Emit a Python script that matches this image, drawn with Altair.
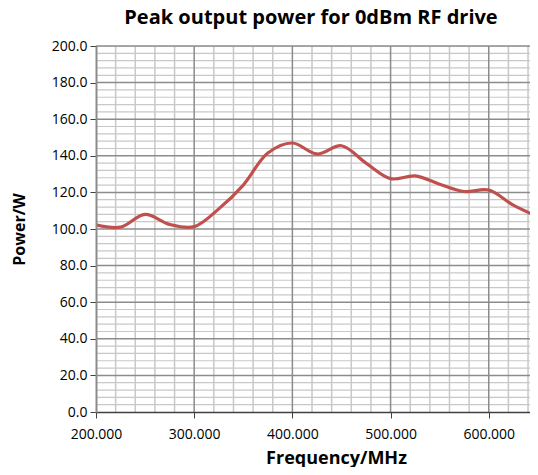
import altair as alt
import pandas as pd

# Data
freq_mhz = [200, 225, 250, 275, 300, 325, 350, 375, 400, 425, 450, 475, 500, 525, 550, 575, 600, 625, 650]
power_w = [102.3, 101.0, 108.0, 102.5, 101.3, 111.0, 124.0, 141.5, 147.0, 141.0, 145.5, 136.0, 127.5, 129.0, 124.5, 120.5, 121.3, 113.0, 106.7]

x_tick_labels = [200, 300, 400, 500, 600]
y_tick_labels = [0, 20, 40, 60, 80, 100, 120, 140, 160, 180, 200]

x_major_grid = [300, 400, 500, 600]
x_minor_grid = [v for v in range(220, 650, 20) if v % 100 != 0]
y_major_grid = [20, 40, 60, 80, 100, 120, 140, 160, 180, 200]
y_minor_grid = [v for v in range(4, 200, 4) if v % 20 != 0]

FONT = "Open Sans"
X_MAX = 642  # visible right edge of the plot (the reference is cut at the frame edge)

xscale = alt.Scale(domain=[200, X_MAX], nice=False, zero=False)
yscale = alt.Scale(domain=[0, 200], nice=False, zero=True)

xaxis = alt.Axis(
    values=x_tick_labels, format=".3f", grid=False, zindex=1,
    title="Frequency/MHz", titleFont=FONT, titleFontSize=18, titleFontWeight="bold",
    titleColor="#000000", titleX=240, titleY=51, titleBaseline="alphabetic", titleAlign="center",
    labelFont=FONT, labelFontSize=14, labelColor="#000000", labelPadding=9,
    labelAlign="center", labelFlush=False,
    tickSize=6, tickColor="#404040", tickWidth=1,
    domainColor="#404040", domainWidth=1.5,
)
yaxis = alt.Axis(
    values=y_tick_labels, format=".1f", grid=False, zindex=1,
    title="Power/W", titleFont=FONT, titleFontSize=16, titleFontWeight="bold",
    titleColor="#000000", titleX=-77, titleY=183, titleAngle=270, titleBaseline="middle", titleAlign="center",
    labelFont=FONT, labelFontSize=14, labelColor="#000000", labelPadding=3,
    labelFlush=False,
    tickSize=6, tickColor="#404040", tickWidth=1,
    domainColor="#8c8c8c", domainWidth=2,
)

line_df = pd.DataFrame({"f": freq_mhz, "p": power_w})

xminor = alt.Chart(pd.DataFrame({"f": x_minor_grid})).mark_rule(color="#c8c8c8", strokeWidth=1.5, clip=True).encode(
    x=alt.X("f:Q", scale=xscale, axis=xaxis)
)
yminor = alt.Chart(pd.DataFrame({"p": y_minor_grid})).mark_rule(color="#c8c8c8", strokeWidth=1.2).encode(
    y=alt.Y("p:Q", scale=yscale, axis=yaxis)
)
xmajor = alt.Chart(pd.DataFrame({"f": x_major_grid})).mark_rule(color="#8c8c8c", strokeWidth=1.5).encode(
    x=alt.X("f:Q", scale=xscale, axis=xaxis)
)
ymajor = alt.Chart(pd.DataFrame({"p": y_major_grid})).mark_rule(color="#8c8c8c", strokeWidth=1.5).encode(
    y=alt.Y("p:Q", scale=yscale, axis=yaxis)
)
line = alt.Chart(line_df).mark_line(color="#c0504d", strokeWidth=3.2, interpolate="catmull-rom", clip=True).encode(
    x=alt.X("f:Q", scale=xscale, axis=xaxis),
    y=alt.Y("p:Q", scale=yscale, axis=yaxis),
)

chart = alt.layer(xminor, yminor, xmajor, ymajor, line).properties(
    width=434,
    height=366,
    autosize=alt.AutoSizeParams(type="none"),
    padding={"left": 88, "top": 38, "right": 0, "bottom": 55},
    title=alt.Title(
        "Peak output power for 0dBm RF drive",
        font=FONT, fontSize=20, fontWeight="bold", color="#000000",
        anchor="middle", dx=-2, offset=11,
    ),
).configure_view(strokeWidth=0).configure(background="#ffffff")

chart.save("out.html", embed_options={"renderer": "svg", "actions": False})
